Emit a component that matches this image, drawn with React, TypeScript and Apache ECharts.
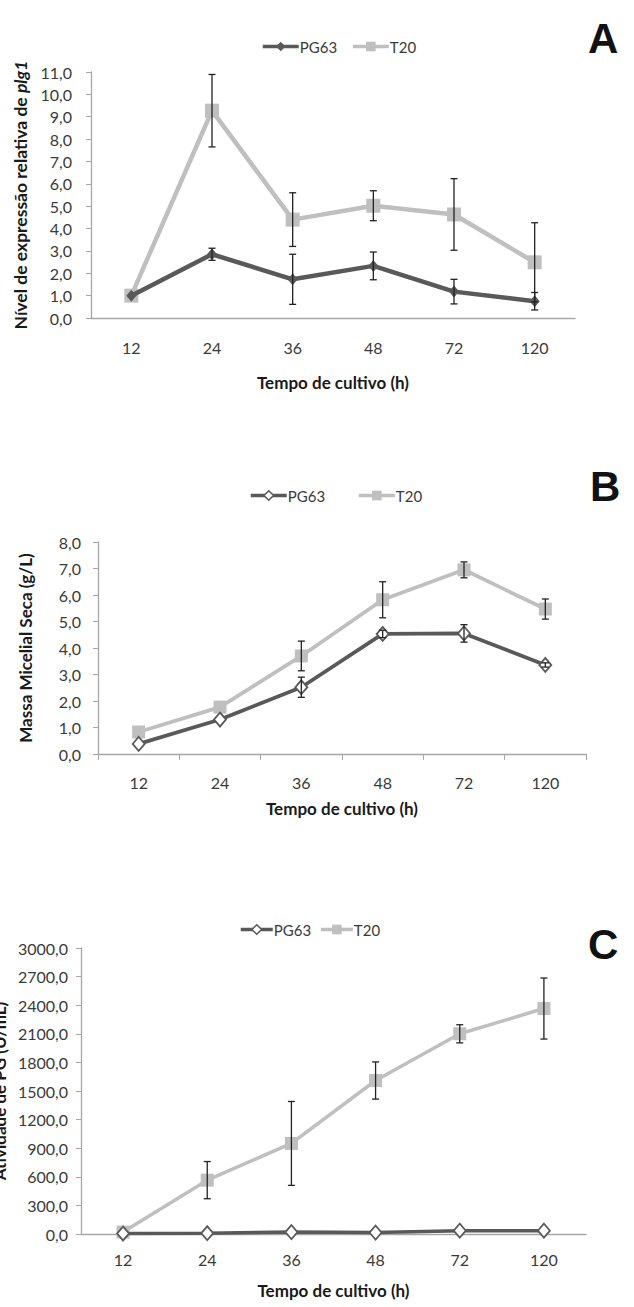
import React, { useEffect, useRef } from "react";
import * as echarts from "echarts";

// ---------- data ----------
const categories = ["12", "24", "36", "48", "72", "120"];

// Panel A: relative expression of plg1
const aPG63 = [1.0, 2.85, 1.73, 2.33, 1.18, 0.75];
const aPG63Err = [0, 0.27, 1.12, 0.62, 0.55, 0.39];
const aT20 = [1.0, 9.27, 4.4, 5.02, 4.63, 2.49];
const aT20Err = [0, 1.62, 1.2, 0.67, 1.6, 1.77];
const aTicks = { min: 0, max: 11, interval: 1 };

// Panel B: dry mycelial mass (g/L)
const bPG63 = [0.38, 1.3, 2.52, 4.53, 4.55, 3.36];
const bPG63Err = [0, 0, 0.38, 0.14, 0.33, 0.08];
const bT20 = [0.83, 1.77, 3.7, 5.82, 6.95, 5.47];
const bT20Err = [0, 0, 0.56, 0.68, 0.3, 0.38];
const bTicks = { min: 0, max: 8, interval: 1 };

// Panel C: activity
const cPG63 = [5, 8, 20, 15, 35, 35];
const cT20 = [20, 565, 950, 1610, 2100, 2365];
const cT20Err = [0, 195, 440, 195, 95, 320];
const cTicks = { min: 0, max: 3000, interval: 300 };

const DARK = "#595959";
const LIGHT = "#bfbfbf";
const AXIS = "#a6a6a6";
const TEXT = "#3a3a3a";
const TITLE = "#1a1a1a";
const FONT = "Lato";

const fmt = (v: number) => v.toFixed(1).replace(".", ",");

const errData = (vals: number[], errs: number[]) =>
  vals
    .map((v, i) => [i, v - errs[i], v + errs[i], errs[i]])
    .filter((d) => d[3] > 0);

const errSeries = (data: number[][], gi: number) => ({
  type: "custom",
  xAxisIndex: gi,
  yAxisIndex: gi,
  z: 5,
  silent: true,
  encode: { x: 0, y: [1, 2] },
  data,
  renderItem: (params: any, api: any) => {
    const x = api.value(0);
    const lo = api.coord([x, api.value(1)]);
    const hi = api.coord([x, api.value(2)]);
    const w = 3.5;
    const style = { stroke: "#222", lineWidth: 1.3 };
    return {
      type: "group",
      children: [
        { type: "line", shape: { x1: hi[0], y1: hi[1], x2: lo[0], y2: lo[1] }, style },
        { type: "line", shape: { x1: hi[0] - w, y1: hi[1], x2: hi[0] + w, y2: hi[1] }, style },
        { type: "line", shape: { x1: lo[0] - w, y1: lo[1], x2: lo[0] + w, y2: lo[1] }, style },
      ],
    };
  },
});

const xAxisFor = (gi: number, ticks: boolean, margin: number, nameGap: number) => ({
  type: "category",
  gridIndex: gi,
  data: categories,
  boundaryGap: true,
  axisLine: { show: true, lineStyle: { color: AXIS, width: 1.3 } },
  axisTick: { show: ticks, length: 6, lineStyle: { color: AXIS } },
  axisLabel: { margin, color: TEXT, fontSize: 16, fontFamily: FONT },
  name: "Tempo de cultivo (h)",
  nameLocation: "middle",
  nameGap,
  nameTextStyle: { fontSize: 17, fontWeight: "bold", color: TITLE, fontFamily: FONT },
});

const yAxisFor = (gi: number, t: any, name: string, nameGap: number, labelMargin: number, extra: any = {}) => ({
  type: "value",
  gridIndex: gi,
  min: t.min,
  max: t.max,
  interval: t.interval,
  splitLine: { show: false },
  axisLine: { show: true, lineStyle: { color: AXIS, width: 1.3 } },
  axisTick: { show: true, length: 5, lineStyle: { color: AXIS } },
  axisLabel: { margin: labelMargin, color: TEXT, fontSize: 16, fontFamily: FONT, formatter: fmt },
  name,
  nameLocation: "middle",
  nameRotate: 90,
  nameGap,
  nameMoveOverlap: false,
  nameTextStyle: { fontSize: 17, fontWeight: "bold", color: TITLE, fontFamily: FONT, ...extra },
});

export default function App() {
  const ref = useRef<HTMLDivElement>(null);
  useEffect(() => {
    document.body.style.margin = "0";
    const chart = echarts.init(ref.current!, null, { renderer: "svg" });

    const legendFor = (top: number, left: number, gap: number, hollow: boolean, w: number) => ({
      top,
      left,
      itemGap: gap,
      itemWidth: w,
      itemHeight: 12,
      textStyle: { color: TEXT, fontSize: 15, fontFamily: FONT, padding: [0, 0, 0, -4] },
      data: [
        {
          name: "PG63",
          itemStyle: hollow
            ? { color: "#fff", borderColor: DARK, borderWidth: 1.5 }
            : { color: DARK },
          lineStyle: { color: DARK, width: 3.5 },
        },
        { name: "T20", itemStyle: { color: LIGHT }, lineStyle: { color: LIGHT, width: 3.5 } },
      ],
    });

    const lineSeries = (name: string, data: number[], gi: number, color: string, symbol: string, size: any, hollow: boolean, width: number) => ({
      type: "line",
      name,
      xAxisIndex: gi,
      yAxisIndex: gi,
      data,
      symbol,
      symbolSize: size,
      showAllSymbol: true,
      z: name === "PG63" ? 3 : 2,
      lineStyle: { color, width },
      itemStyle: hollow ? { color: "#fff", borderColor: color, borderWidth: 1.8 } : { color },
    });

    chart.setOption({
      animation: false,
      textStyle: { fontFamily: FONT },
      grid: [
        { left: 91, top: 72, width: 484, height: 246, outerBoundsMode: "none", containLabel: false },
        { left: 98, top: 542, width: 488, height: 212, outerBoundsMode: "none", containLabel: false },
        { left: 81, top: 948, width: 505, height: 286, outerBoundsMode: "none", containLabel: false },
      ],
      legend: [
        legendFor(34, 256, 14, false, 36),
        legendFor(483, 244, 32, true, 36),
        legendFor(917, 234, 8, true, 32),
      ],
      xAxis: [xAxisFor(0, false, 21, 56), xAxisFor(1, true, 20, 46), xAxisFor(2, false, 17, 48)],
      yAxis: [
        yAxisFor(0, aTicks, "{n|Nível de expressão relativa de }{i|plg1}", 62, 19, {
          rich: {
            n: { fontSize: 17.5, fontWeight: "bold", color: TITLE, fontFamily: FONT },
            i: { fontSize: 17.5, fontWeight: "bold", fontStyle: "italic", color: TITLE, fontFamily: FONT },
          },
        }),
        yAxisFor(1, bTicks, "Massa Micelial Seca (g/L)", 64, 17),
        yAxisFor(2, cTicks, "Atividade de PG (U/mL)", 73, 13),
      ],
      series: [
        lineSeries("T20", aT20, 0, LIGHT, "rect", 14, false, 4.5),
        lineSeries("PG63", aPG63, 0, DARK, "diamond", [10, 12], false, 4.5),
        errSeries(errData(aT20, aT20Err), 0),
        errSeries(errData(aPG63, aPG63Err), 0),

        lineSeries("T20", bT20, 1, LIGHT, "rect", 13, false, 3.8),
        lineSeries("PG63", bPG63, 1, DARK, "diamond", [12, 14], true, 3.8),
        errSeries(errData(bT20, bT20Err), 1),
        errSeries(errData(bPG63, bPG63Err), 1),

        lineSeries("T20", cT20, 2, LIGHT, "rect", 13, false, 3.5),
        lineSeries("PG63", cPG63, 2, DARK, "diamond", [12, 14], true, 3.5),
        errSeries(errData(cT20, cT20Err), 2),
      ],
      graphic: [
        { type: "text", left: 588, top: 17, style: { text: "A", font: "bold 42px 'Liberation Sans', Arial", fill: "#111" } },
        { type: "text", left: 590, top: 465, style: { text: "B", font: "bold 42px 'Liberation Sans', Arial", fill: "#111" } },
        { type: "text", left: 588, top: 923, style: { text: "C", font: "bold 42px 'Liberation Sans', Arial", fill: "#111" } },
      ],
    });
    return () => chart.dispose();
  }, []);
  return <div ref={ref} style={{ width: 634, height: 1307 }} />;
}
